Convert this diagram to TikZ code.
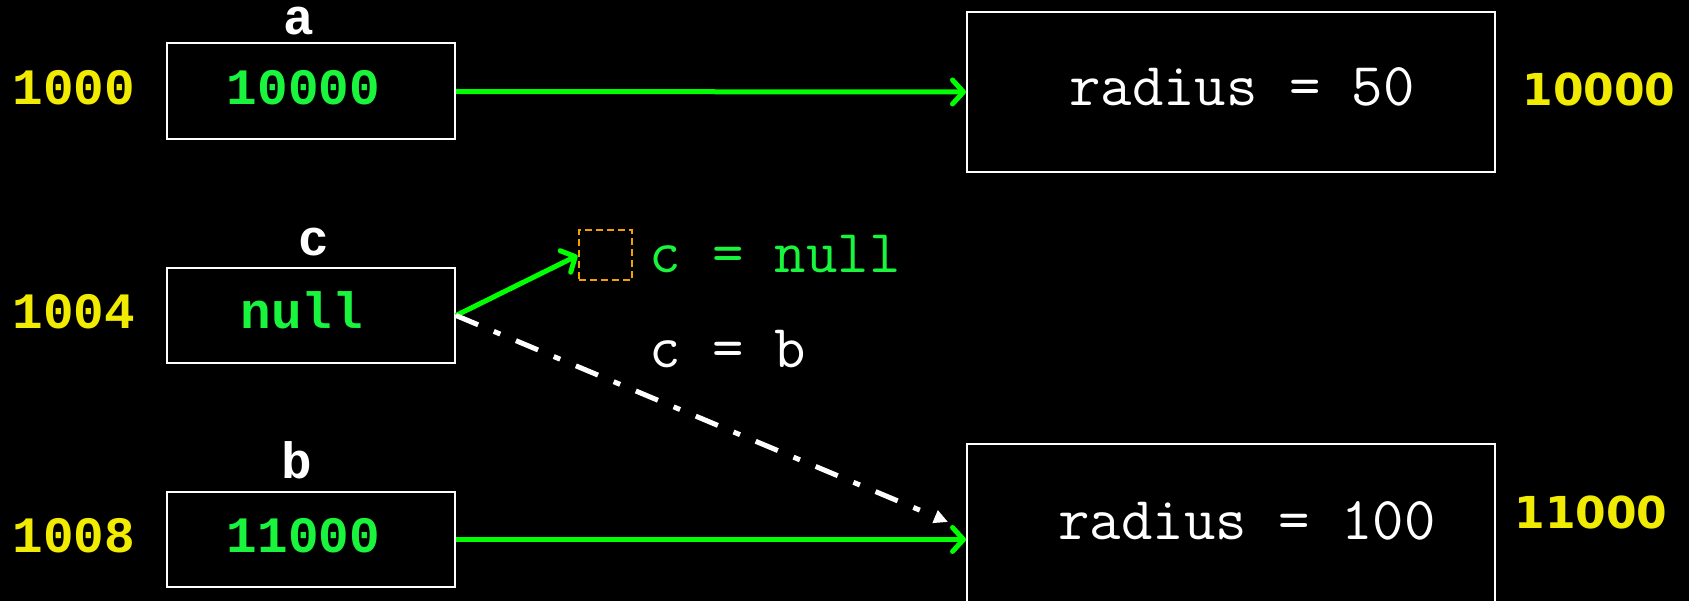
\documentclass[tikz,border=0pt]{standalone}
\usepackage{fontspec}
\newfontfamily\dvsfam{DejaVu Sans}
\newfontfamily\lmonofam{Liberation Mono}
\usetikzlibrary{arrows.meta}
\definecolor{tgreen}{RGB}{25,245,60}
\definecolor{agreen}{RGB}{0,255,0}
\definecolor{addr}{RGB}{240,235,0}
\definecolor{dorange}{RGB}{240,160,0}
\begin{document}
\begin{tikzpicture}[x=1pt,y=-1pt,
  box/.style={draw=white,line width=2pt,inner sep=0pt},
  mtext/.style={font=\ttfamily\fontsize{61}{61}\selectfont,inner sep=0pt},
  mbold/.style={font=\lmonofam\bfseries\fontsize{51}{51}\selectfont,inner sep=0pt},
  vlabel/.style={mbold,text=white,text height=28pt,text depth=0pt,anchor=base},
  haddr/.style={font=\dvsfam\bfseries\fontsize{44}{44}\selectfont,inner sep=0pt,text=addr},
  garrow/.style={draw=agreen,line width=5pt,-{Straight Barb[length=11pt,width=24pt,round]}},
  wdash/.style={draw=white,line width=5pt,dash pattern=on 24pt off 17pt on 7pt off 17pt,-{Triangle[length=14pt,width=13pt]}}]
\fill[black] (0,0) rectangle (1689,601);
\useasboundingbox (0,0) rectangle (1689,601);
% variable boxes
\node[box,minimum width=288pt,minimum height=96pt] (a) at (311,91.5) {};
\node[box,minimum width=288pt,minimum height=95pt] (c) at (311,315.5) {};
\node[box,minimum width=288pt,minimum height=95pt] (b) at (311,539.5) {};
% object boxes
\node[box,minimum width=528pt,minimum height=160pt] (ra) at (1231,92) {};
\node[box,minimum width=528pt,minimum height=196pt] (rb) at (1231,542) {};
% labels
\node[vlabel] (la) at (299,35) {a};
\node[vlabel] (lc) at (314,256) {c};
\node[vlabel] (lb) at (297,478) {b};
% addresses
\node[mbold,text=addr,anchor=base] (ad1) at (74,105) {1000};
\node[mbold,text=addr,anchor=base] (ad2) at (74,329) {1004};
\node[mbold,text=addr,anchor=base] (ad3) at (74,552) {1008};
% values
\node[mbold,text=tgreen,anchor=base] (v1) at (303.5,105) {10000};
\node[mbold,text=tgreen,anchor=base] (v2) at (302,329) {null};
\node[mbold,text=tgreen,anchor=base] (v3) at (303.5,552) {11000};
% object contents
\node[mtext,text=white,anchor=base] (t1) at (1242,106) {radius = 50};
\node[mtext,text=white,anchor=base] (t2) at (1247,539) {radius = 100};
% heap addresses
\node[haddr,anchor=base] (h1) at (1599,105.5) {10000};
\node[haddr,anchor=base] (h2) at (1591,528) {11000};
% null placeholder
\node[draw=dorange,line width=2pt,dash pattern=on 7pt off 4pt,minimum width=53pt,minimum height=50pt,inner sep=0pt] (nb) at (605,255.5) {};
\node[mtext,text=tgreen,anchor=base west] (cn) at (649,273) {c = null};
\node[mtext,text=white,anchor=base west] (cbt) at (649,368) {c = b};
\coordinate (cb) at (948,522);
% connectors
\draw[garrow] (a.east) -- (ra.west);
\draw[garrow] (b.east) -- (rb.west |- b.east);
\draw[garrow] (c.east) -- (nb.west);
\draw[wdash] (c.east) -- (cb);
\end{tikzpicture}
\end{document}
